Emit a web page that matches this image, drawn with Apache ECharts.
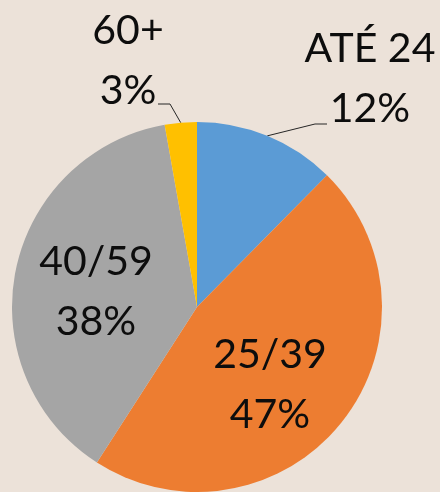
<!DOCTYPE html>
<html><head><meta charset="utf-8">
<script src="https://cdn.jsdelivr.net/npm/echarts@6/dist/echarts.min.js"></script>
<style>html,body{margin:0;padding:0;background:#ece2d9;} #c{width:440px;height:492px;}</style>
</head><body><div id="c"></div>
<script>
const categories = ['ATÉ 24', '25/39', '40/59', '60+'];
const values = [12.4, 46.7, 38.1, 2.8];
const percentLabels = ['12%', '47%', '38%', '3%'];
const colors = ['#5b9bd5', '#ed7d31', '#a5a5a5', '#ffc000'];
const inside = [false, true, true, false];

// label centres (layout)
const labelCenters = [[370, 79], [270, 385], [96, 292], [128, 61]];
// leader line elbow / end offsets relative to label centre
const lineOffsets = {
  0: [[-55, 45], [-43, 45]],
  3: [[42, 43], [30, 43]]
};

const chart = echarts.init(document.getElementById('c'), null, {renderer: 'canvas'});
const data = categories.map((c, i) => ({
  name: c,
  value: values[i],
  itemStyle: {color: colors[i]},
  label: {position: inside[i] ? 'inside' : 'outside'},
  labelLine: {show: !inside[i]}
}));

chart.setOption({
  backgroundColor: '#ece2d9',
  animation: false,
  series: [{
    type: 'pie',
    center: [197, 307],
    radius: 185,
    startAngle: 90,
    clockwise: true,
    avoidLabelOverlap: false,
    data: data,
    itemStyle: {borderWidth: 0},
    label: {
      show: true,
      formatter: p => categories[p.dataIndex] + '\n' + percentLabels[p.dataIndex],
      fontFamily: 'Lato',
      fontSize: 41,
      lineHeight: 60,
      color: '#0d0d0d',
      align: 'center'
    },
    labelLine: {
      length: 10,
      length2: 10,
      lineStyle: {color: '#262626', width: 1}
    },
    labelLayout: function (params) {
      const i = params.dataIndex;
      const c = labelCenters[i];
      const res = {x: c[0], y: c[1], align: 'center', verticalAlign: 'middle'};
      if (lineOffsets[i] && params.labelLinePoints) {
        const p0 = params.labelLinePoints[0];
        const o = lineOffsets[i];
        res.labelLinePoints = [
          [p0[0], p0[1]],
          [c[0] + o[0][0], c[1] + o[0][1]],
          [c[0] + o[1][0], c[1] + o[1][1]]
        ];
      }
      return res;
    }
  }]
});
</script>
</body></html>
